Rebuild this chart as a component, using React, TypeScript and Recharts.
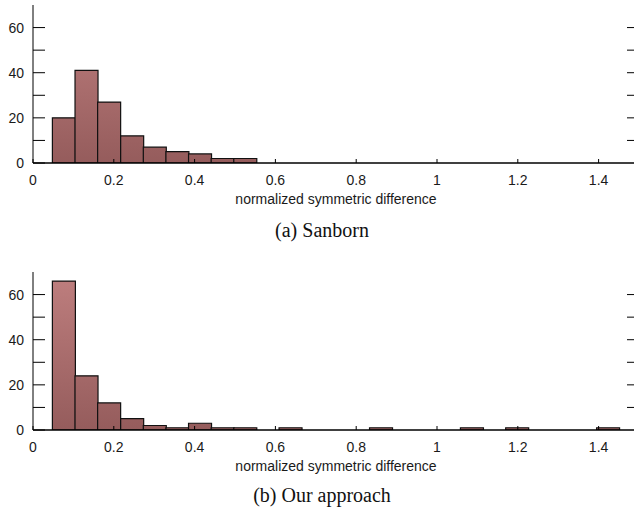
import { ComposedChart, Bar, XAxis, YAxis } from "recharts";

// bin centres of the histogram (normalized symmetric difference)
const BIN_CENTERS = [
  0.076, 0.132, 0.188, 0.245, 0.301, 0.357, 0.413, 0.469, 0.525, 0.581,
  0.637, 0.693, 0.749, 0.805, 0.861, 0.918, 0.974, 1.03, 1.086, 1.142,
  1.198, 1.254, 1.31, 1.367, 1.423,
];

// (a) Sanborn
const SANBORN_COUNTS = [
  20, 41, 27, 12, 7, 5, 4, 2, 2, 0, 0, 0, 0, 0, 0, 0, 0, 0, 0, 0, 0, 0, 0, 0, 0,
];

// (b) Our approach
const OUR_COUNTS = [
  66, 24, 12, 5, 2, 1, 3, 1, 1, 0, 1, 0, 0, 0, 1, 0, 0, 0, 1, 0, 1, 0, 0, 0, 1,
];

const X_TICKS = [0, 0.2, 0.4, 0.6, 0.8, 1, 1.2, 1.4];
const Y_TICKS = [0, 10, 20, 30, 40, 50, 60];
const Y_LABELED = [0, 20, 40, 60];
const X_DOMAIN = [0, 1.5];
const Y_DOMAIN = [0, 70];

const TEXT_COLOR = "#1a1a1a";
const FONT_SIZE = 14;

const BottomTick = (props: any) => {
  const { x, y, payload } = props;
  return (
    <g>
      <line x1={x} x2={x} y1={y} y2={y - 4} stroke="#000" />
      <text x={x} y={y + 22} textAnchor="middle" fontSize={FONT_SIZE} fill={TEXT_COLOR}>
        {payload.value}
      </text>
    </g>
  );
};

const TopTick = (props: any) => {
  const { x, y } = props;
  return <line x1={x} x2={x} y1={y} y2={y + 4} stroke="#000" />;
};

const LeftTick = (props: any) => {
  const { x, y, payload } = props;
  return (
    <g>
      <line x1={x} x2={x + 12} y1={y} y2={y} stroke="#000" />
      {Y_LABELED.includes(payload.value) && (
        <text x={x - 9} y={y + 5} textAnchor="end" fontSize={FONT_SIZE} fill={TEXT_COLOR}>
          {payload.value}
        </text>
      )}
    </g>
  );
};

const RightTick = (props: any) => {
  const { x, y } = props;
  return <line x1={x} x2={x - 12} y1={y} y2={y} stroke="#000" />;
};

function Histogram({ counts, gid }: { counts: number[]; gid: string }) {
  const data = BIN_CENTERS.map((c, i) => ({ x: c, count: counts[i] }));
  return (
    <ComposedChart
      width={640}
      height={215}
      data={data}
      margin={{ top: 5, right: 0, left: 0, bottom: 7 }}
      barCategoryGap={0}
      barGap={0}
    >
      <defs>
        <linearGradient id={gid} gradientUnits="userSpaceOnUse" x1="0" y1="5" x2="0" y2="163">
          <stop offset="0%" stopColor="#bf7f7f" />
          <stop offset="100%" stopColor="#955c5c" />
        </linearGradient>
      </defs>
      <XAxis
        dataKey="x"
        type="number"
        domain={X_DOMAIN}
        ticks={X_TICKS}
        interval={0}
        height={45}
        tickSize={0}
        tickMargin={0}
        tickLine={false}
        tick={<BottomTick />}
        axisLine={{ stroke: "#000", strokeWidth: 1.5 }}
        allowDataOverflow
        label={{
          value: "normalized symmetric difference",
          position: "insideBottom",
          offset: 4,
          style: { fontSize: FONT_SIZE, fill: TEXT_COLOR },
        }}
      />
      <XAxis
        xAxisId="top"
        orientation="top"
        type="number"
        domain={X_DOMAIN}
        ticks={X_TICKS}
        interval={0}
        height={0}
        tickSize={0}
        tickMargin={0}
        tickLine={false}
        tick={<TopTick />}
        axisLine={{ stroke: "#000" }}
        allowDataOverflow
      />
      <YAxis
        type="number"
        domain={Y_DOMAIN}
        ticks={Y_TICKS}
        interval={0}
        width={33}
        tickSize={0}
        tickMargin={0}
        tickLine={false}
        tick={<LeftTick />}
        axisLine={{ stroke: "#000" }}
        allowDataOverflow
      />
      <YAxis
        yAxisId="right"
        orientation="right"
        type="number"
        domain={Y_DOMAIN}
        ticks={Y_TICKS.slice(1)}
        interval={0}
        width={1}
        tickSize={0}
        tickMargin={0}
        tickLine={false}
        tick={<RightTick />}
        axisLine={{ stroke: "#000" }}
        allowDataOverflow
      />
      <Bar
        dataKey="count"
        fill={`url(#${gid})`}
        stroke="#111"
        strokeWidth={1.2}
        isAnimationActive={false}
      />
    </ComposedChart>
  );
}

const captionStyle: React.CSSProperties = {
  position: "absolute",
  left: 172,
  width: 300,
  textAlign: "center",
  fontFamily: "'Liberation Serif', 'Times New Roman', serif",
  fontSize: 20,
  lineHeight: "20px",
  color: "#111",
};

export default function App() {
  return (
    <div
      style={{
        position: "absolute",
        left: 0,
        top: 0,
        width: 634,
        height: 510,
        overflow: "hidden",
        background: "#fff",
        fontFamily: "'Liberation Sans', Arial, sans-serif",
      }}
    >
      <div style={{ position: "absolute", left: 0, top: 0 }}>
        <Histogram counts={SANBORN_COUNTS} gid="gradA" />
      </div>
      <div style={{ ...captionStyle, top: 220 }}>(a) Sanborn</div>
      <div style={{ position: "absolute", left: 0, top: 267 }}>
        <Histogram counts={OUR_COUNTS} gid="gradB" />
      </div>
      <div style={{ ...captionStyle, top: 485 }}>(b) Our approach</div>
    </div>
  );
}
